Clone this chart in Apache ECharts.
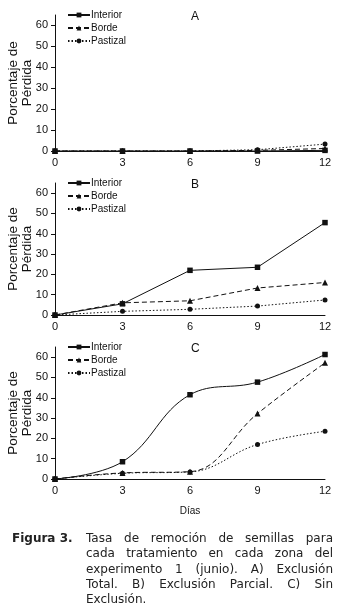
<!DOCTYPE html>
<html>
<head>
<meta charset="utf-8">
<script src="https://cdn.jsdelivr.net/npm/echarts@6/dist/echarts.min.js"></script>
<style>
html,body{margin:0;padding:0;background:#fff;}
#chart{position:absolute;left:0;top:0;width:344px;height:611px;}
#cap{position:absolute;left:0;top:531px;width:344px;font-family:"DejaVu Sans",Verdana,sans-serif;font-size:12px;color:#222;line-height:15.3px;}
.ln{position:absolute;left:86px;width:247px;text-align:justify;text-align-last:justify;white-space:nowrap;}
.last{text-align-last:left;}
.fig{position:absolute;left:12px;font-weight:bold;}
</style>
</head>
<body>
<div id="chart"></div>
<div id="cap">
  <div class="fig" style="top:0px">Figura 3.</div>
  <div class="ln" style="top:0px">Tasa de remoción de semillas para</div>
  <div class="ln" style="top:15.3px">cada tratamiento en cada zona del</div>
  <div class="ln" style="top:30.6px">experimento 1 (junio). A) Exclusión</div>
  <div class="ln" style="top:45.9px">Total. B) Exclusión Parcial. C) Sin</div>
  <div class="ln last" style="top:61.2px">Exclusión.</div>
</div>
<script>
const dias = [0, 3, 6, 9, 12];
const xTicks = [0, 3, 6, 9, 12];
const yTicks = [0, 10, 20, 30, 40, 50, 60];
const seriesNames = ['Interior', 'Borde', 'Pastizal'];
const panelTitles = ['A', 'B', 'C'];

const aInterior = [0, 0, 0, 0, 0.3];
const aBorde = [0, 0, 0, 0.3, 1.2];
const aPastizal = [0, 0, 0, 0.6, 3.3];

const bInterior = [0, 5.5, 22, 23.5, 45.5];
const bBorde = [0, 6, 7, 13.3, 16];
const bPastizal = [0, 1.8, 2.8, 4.4, 7.4];

const cInterior = [0, 8.5, 41.5, 47.7, 61.3];
const cBorde = [0, 3, 3.6, 32.2, 57.2];
const cPastizal = [0, 2.8, 3.5, 17, 23.5];

const panels = [
  [aInterior, aBorde, aPastizal],
  [bInterior, bBorde, bPastizal],
  [cInterior, cBorde, cPastizal]
];
const smoothFlags = [false, false, true];

const gridTops = [15, 183, 347];
const ink = '#111';
const font = 'Liberation Sans';

const styles = [
  {symbol: 'rect', size: 5.5, type: 'solid'},
  {symbol: 'triangle', size: 6, type: [5, 3]},
  {symbol: 'circle', size: 5, type: [1.5, 2]}
];

const grids = [], xAxes = [], yAxes = [], series = [], legends = [], titles = [];
panels.forEach((p, i) => {
  const h = i === 0 ? 136 : 132;
  grids.push({left: 55, right: 19, top: gridTops[i], height: h, containLabel: false, outerBoundsMode: 'none'});
  xAxes.push({
    type: 'value', gridIndex: i, min: 0, max: 12, interval: 3,
    axisLine: {show: true, lineStyle: {color: ink, width: 1}},
    axisTick: {show: false},
    splitLine: {show: false},
    axisLabel: {color: ink, fontFamily: font, fontSize: 11, margin: 6},
    name: i === 2 ? 'Días' : '', nameLocation: 'middle', nameGap: 27,
    nameTextStyle: {color: ink, fontFamily: font, fontSize: 10}
  });
  yAxes.push({
    type: 'value', gridIndex: i, min: 0, max: 65, interval: 10,
    axisLine: {show: true, lineStyle: {color: ink, width: 1}},
    axisTick: {show: true, length: 4, lineStyle: {color: ink}, customValues: yTicks},
    splitLine: {show: false},
    axisLabel: {color: ink, fontFamily: font, fontSize: 11, margin: 7, customValues: yTicks},
    name: 'Porcentaje de\nPérdida', nameLocation: 'middle', nameGap: 21, nameRotate: 90,
    nameMoveOverlap: false,
    nameTextStyle: {color: ink, fontFamily: font, fontSize: 13.5, lineHeight: 14, align: 'center'}
  });
  p.forEach((vals, k) => {
    series.push({
      type: 'line', name: seriesNames[k], xAxisIndex: i, yAxisIndex: i,
      data: dias.map((d, j) => [d, vals[j]]),
      smooth: smoothFlags[i] ? 0.4 : false,
      symbol: styles[k].symbol, symbolSize: styles[k].size,
      itemStyle: {color: ink},
      lineStyle: {color: ink, width: 1, type: styles[k].type},
      animation: false, z: 5 - k
    });
  });
  legends.push({
    orient: 'vertical', left: 67, top: gridTops[i] - 5, padding: 0,
    itemWidth: 22, itemHeight: 6, itemGap: 3,
    data: seriesNames, selectedMode: false,
    textStyle: {color: ink, fontFamily: font, fontSize: 10, padding: [0, 0, 0, -4]}
  });
  titles.push({
    text: panelTitles[i], left: 186, top: gridTops[i] - 9,
    textStyle: {color: ink, fontFamily: font, fontSize: 12, fontWeight: 'normal'}
  });
});

const chart = echarts.init(document.getElementById('chart'), null, {renderer: 'canvas'});
chart.setOption({
  backgroundColor: '#fff',
  animation: false,
  title: titles,
  legend: legends,
  grid: grids,
  xAxis: xAxes,
  yAxis: yAxes,
  series: series
});
</script>
</body>
</html>
